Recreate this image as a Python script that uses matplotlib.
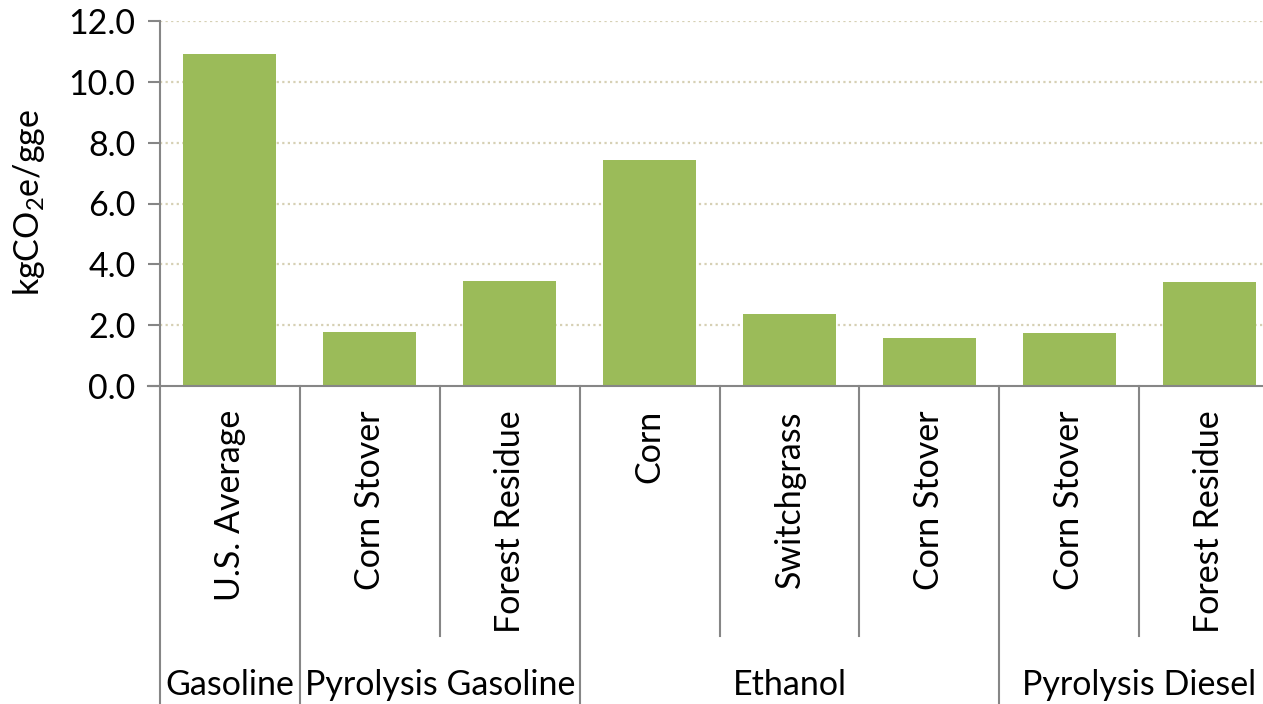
import matplotlib
matplotlib.use('Agg')
import matplotlib.pyplot as plt
import matplotlib.transforms as mtransforms

# chart data
fuels = ['Gasoline', 'Pyrolysis Gasoline', 'Pyrolysis Gasoline',
         'Ethanol', 'Ethanol', 'Ethanol',
         'Pyrolysis Diesel', 'Pyrolysis Diesel']
feedstocks = ['U.S. Average', 'Corn Stover', 'Forest Residue', 'Corn',
              'Switchgrass', 'Corn Stover', 'Corn Stover', 'Forest Residue']
emissions = [10.9, 1.78, 3.45, 7.43, 2.37, 1.59, 1.74, 3.43]
y_ticks = [0, 2, 4, 6, 8, 10, 12]

_bar_colour = '#9BBB59'
_axis_colour = '#868686'
_grid_colour = '#D6D0B4'
_font_size = 24.5

plt.rcParams['font.family'] = ['Lato', 'DejaVu Sans']
plt.rcParams['mathtext.default'] = 'regular'

W, H = 1263, 704
fig = plt.figure(figsize=(W / 100, H / 100), dpi=100)
# the axis runs off the right edge of the picture, as in the original
left, right, bottom, top = 160, 1279, 386, 21
ax = fig.add_axes([left / W, (H - bottom) / H, (right - left) / W, (bottom - top) / H])

x = list(range(len(feedstocks)))
ax.bar(x, emissions, width=93 / 140, color=_bar_colour, zorder=3)
ax.set_xlim(-0.5, len(feedstocks) - 0.5)
ax.set_ylim(0, 12)

ax.set_yticks(y_ticks)
ax.set_yticklabels([f'{v:.1f}' for v in y_ticks], fontsize=_font_size)
ax.tick_params(axis='y', length=8.6, width=1.5, color=_axis_colour, pad=9)
ax.set_xticks([])
for y in y_ticks[1:]:
    ax.axhline(y, color=_grid_colour, linestyle=(0, (1, 1.5)), linewidth=1.6, zorder=1)

for side in ('top', 'right', 'bottom'):
    ax.spines[side].set_visible(False)
ax.spines['left'].set_color(_axis_colour)
ax.spines['left'].set_linewidth(1.5)

ax.set_ylabel('kgCO$_2$e/gge', fontsize=_font_size)
# label anchor is its right edge (text bottom), centred near x=30 px
ax.yaxis.set_label_coords(-(left - 47) / (right - left), (bottom - 202) / (bottom - top))

px = 1 / (bottom - top)  # axes fraction per pixel (vertical)
trans = mtransforms.blended_transform_factory(ax.transData, ax.transAxes)

# horizontal category axis, poking left past the y axis like the ticks
ax.plot([-0.5 - 12 / 140, len(feedstocks) - 0.5], [0, 0], color=_axis_colour,
        linewidth=1.5, transform=trans, clip_on=False, zorder=4)

# separators: short ones between feedstocks, long ones between fuels
for i in range(len(feedstocks) + 1):
    xb = i - 0.5
    if i == 0 or i == len(feedstocks) or fuels[i] != fuels[i - 1]:
        y_end = -(H - bottom + 10) * px
    else:
        y_end = -(636 - bottom) * px
    ax.plot([xb, xb], [0, y_end], color=_axis_colour, linewidth=1.5,
            transform=trans, clip_on=False)

for xi, name in zip(x, feedstocks):
    ax.text(xi, -(410 - bottom) * px, name, rotation=90, ha='center', va='top',
            fontsize=_font_size, transform=trans)

groups = []
for i, fuel in enumerate(fuels):
    if groups and groups[-1][0] == fuel:
        groups[-1][2] = i
    else:
        groups.append([fuel, i, i])
for fuel, first, last in groups:
    ax.text((first + last) / 2, -(695 - bottom) * px, fuel, ha='center',
            va='baseline', fontsize=_font_size, transform=trans)

fig.savefig('out.png', dpi=100)
